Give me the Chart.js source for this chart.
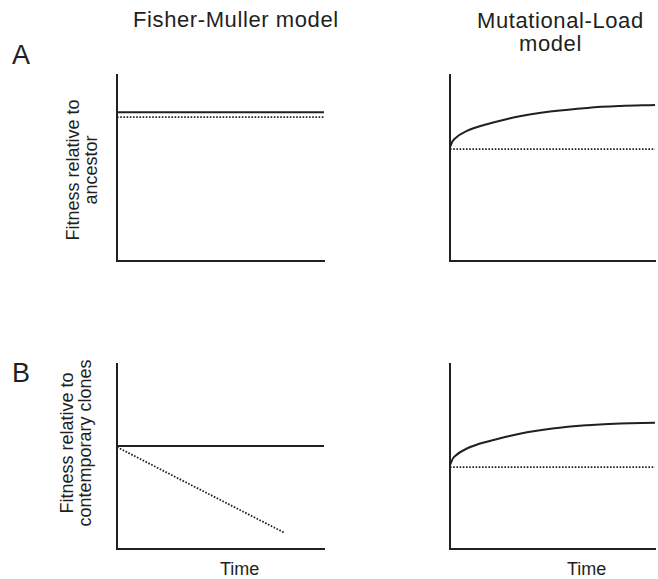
<!DOCTYPE html>
<html>
<head>
<meta charset="utf-8">
<script src="https://cdn.jsdelivr.net/npm/chart.js@4"></script>
<style>
  body { margin: 0; background: #fff; overflow: hidden; }
  #wrap { position: relative; width: 658px; height: 579px; font-family: 'Liberation Sans', Arial, sans-serif; color: #231f20; }
  .txt { position: absolute; white-space: nowrap; }
  .head { font-size: 22px; line-height: 24px; letter-spacing: 0.6px; }
  .panel { position: absolute; }
  .ylab { position: absolute; width: 220px; text-align: center; font-size: 18px; line-height: 18px; transform: rotate(-90deg); }
</style>
</head>
<body>
<div id="wrap">
  <div class="txt head" style="left:133px; top:8px;">Fisher-Muller model</div>
  <div class="txt head" style="left:477px; top:9px;">Mutational-Load</div>
  <div class="txt head" style="left:519px; top:32px;">model</div>
  <div class="txt" style="left:12px; top:41px; font-size:27px; line-height:28px;">A</div>
  <div class="txt" style="left:12px; top:359px; font-size:27px; line-height:28px;">B</div>
  <div class="ylab" style="left:-28px; top:152px;">Fitness relative to<br>ancestor</div>
  <div class="ylab" style="left:-34px; top:425px;">Fitness relative to<br>contemporary clones</div>
  <div class="txt" style="left:220px; top:560px; font-size:18px; line-height:18px;">Time</div>
  <div class="txt" style="left:567px; top:560px; font-size:18px; line-height:18px;">Time</div>

  <div class="panel" id="pA1"><canvas id="cA1"></canvas></div>
  <div class="panel" id="pA2"><canvas id="cA2"></canvas></div>
  <div class="panel" id="pB1"><canvas id="cB1"></canvas></div>
  <div class="panel" id="pB2"><canvas id="cB2"></canvas></div>
</div>
<script>
// time runs 0..10, fitness 0..10 (arbitrary units, conceptual sketch)
const flatTime = [0, 10];
const curveTime = [0, 0.2, 0.8, 1.8, 3.4, 5.0, 6.7, 8.3, 10];

// A: fitness relative to ancestor
const fmSolidA = [8.0, 8.0];
const fmDottedA = [7.74, 7.74];
const mlCurveA = [6.13, 6.55, 6.98, 7.35, 7.78, 8.05, 8.23, 8.33, 8.39];
const mlDottedA = [6.02, 6.02];

// B: fitness relative to contemporary clones
const fmSolidB = [5.57, 5.57];
const fmDottedTimeB = [0, 8.12];
const fmDottedB = [5.51, 0.86];
const mlCurveB = [4.54, 4.98, 5.42, 5.80, 6.23, 6.51, 6.69, 6.79, 6.82];
const mlDottedB = [4.43, 4.43];

const ink = '#231f20';
const PAD = 4;

function pts(xs, ys) {
    return xs.map((x, i) => ({ x: x, y: ys[i] }));
}

function solid(xs, ys) {
    return {
        data: pts(xs, ys),
        borderColor: ink,
        borderWidth: 2,
        pointRadius: 0,
        fill: false,
        tension: 0.4
    };
}

function dotted(xs, ys) {
    return {
        data: pts(xs, ys),
        borderColor: ink,
        borderWidth: 1.8,
        borderDash: [1.6, 1.6],
        pointRadius: 0,
        fill: false
    };
}

function axis() {
    return {
        type: 'linear',
        min: 0,
        max: 10,
        grid: { display: false, drawTicks: false },
        ticks: { display: false },
        border: { display: true, color: ink, width: 2 }
    };
}

function makePanel(id, box, datasets) {
    const div = document.getElementById('p' + id);
    div.style.left = (box[0] - PAD) + 'px';
    div.style.top = (box[1] - PAD) + 'px';
    div.style.width = (box[2] - box[0] + 2 * PAD) + 'px';
    div.style.height = (box[3] - box[1] + 2 * PAD) + 'px';
    new Chart(document.getElementById('c' + id), {
        type: 'line',
        data: { datasets: datasets },
        options: {
            animation: false,
            responsive: true,
            maintainAspectRatio: false,
            layout: { padding: PAD },
            plugins: { legend: { display: false }, tooltip: { enabled: false } },
            scales: { x: axis(), y: axis() }
        }
    });
}

// boxes: left, top, right, bottom of each plot area
makePanel('A1', [117, 75, 324, 261], [solid(flatTime, fmSolidA), dotted(flatTime, fmDottedA)]);
makePanel('A2', [450, 75, 655, 261], [solid(curveTime, mlCurveA), dotted(flatTime, mlDottedA)]);
makePanel('B1', [117, 364, 324, 549], [solid(flatTime, fmSolidB), dotted(fmDottedTimeB, fmDottedB)]);
makePanel('B2', [450, 364, 655, 549], [solid(curveTime, mlCurveB), dotted(flatTime, mlDottedB)]);
</script>
</body>
</html>
